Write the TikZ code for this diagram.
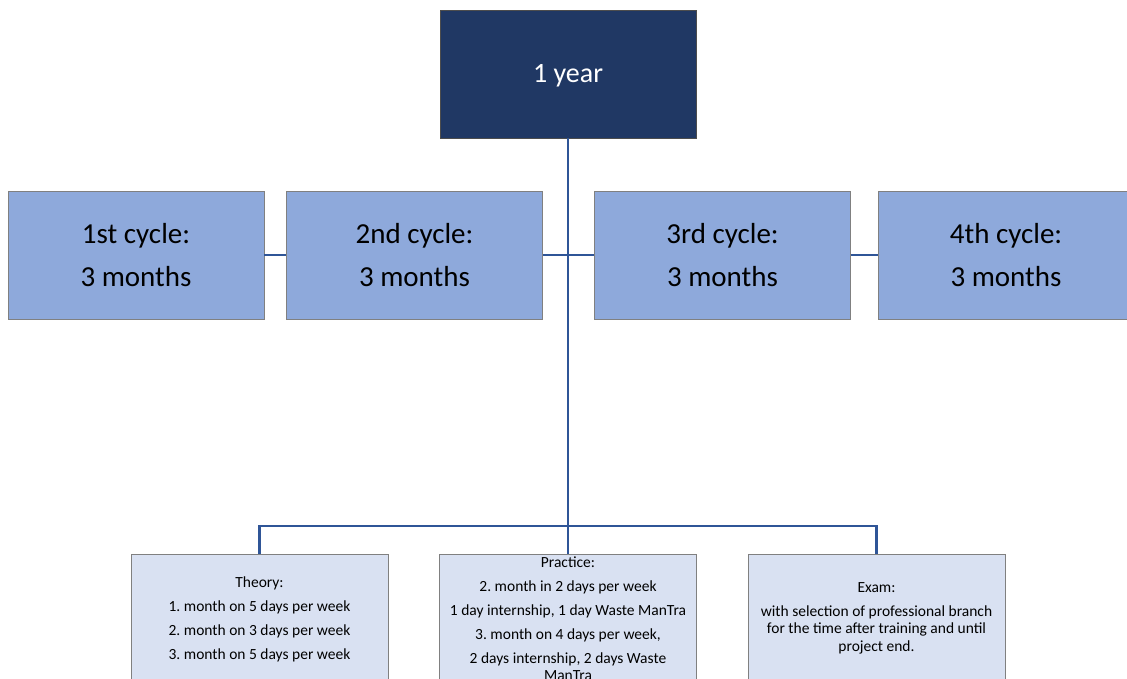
\documentclass[tikz,border=0pt]{standalone}
\usepackage{fontspec}
\setmainfont{Carlito}
\frenchspacing
\definecolor{navy}{HTML}{203864}
\definecolor{cyclefill}{HTML}{8EA9DB}
\definecolor{detailfill}{HTML}{D9E1F2}
\definecolor{linkblue}{HTML}{2F5597}
\definecolor{edgegray}{HTML}{808080}
\begin{document}
\begin{tikzpicture}[x=1pt,y=-1pt,
  yearbox/.style={draw=edgegray!60!black, line width=0.8pt, fill=navy, text=white,
    minimum width=256pt, minimum height=128pt, inner sep=0pt,
    font=\fontsize{28}{34}\selectfont},
  cyclebox/.style={draw=edgegray, line width=0.8pt, fill=cyclefill, align=center,
    minimum width=256pt, minimum height=128pt, inner sep=0pt,
    font=\fontsize{29}{43}\selectfont},
  detailbox/.style={draw=edgegray, line width=0.8pt, fill=detailfill,
    minimum width=257pt, minimum height=130pt, inner sep=0pt},
  detailtext/.style={align=center, inner sep=0pt, font=\fontsize{15.5}{17}\selectfont},
  link/.style={draw=linkblue, line width=2.6pt}]
\useasboundingbox (0,0) rectangle (1127,678);
\clip (0,0) rectangle (1127,678);

% top level
\node[yearbox, text depth=2pt] (year) at (568,74) {1 year};

% the four cycles
\node[cyclebox] (c1) at (136,255) {1st cycle:\\3 months};
\node[cyclebox] (c2) at (414.5,255) {2nd cycle:\\3 months};
\node[cyclebox] (c3) at (722.5,255) {3rd cycle:\\3 months};
\node[cyclebox] (c4) at (1006,255) {4th cycle:\\3 months};

% detail boxes
\node[detailbox] (theory) at (259.5,619) {};
\node[detailbox] (practice) at (568,619) {};
\node[detailbox] (exam) at (876.5,619) {};

\node[detailtext] (theorytxt) at (259.5,619) {Theory:\\[7pt]1. month on 5 days per week\\[7pt]2. month on 3 days per week\\[7pt]3. month on 5 days per week};
\node[detailtext] (practicetxt) at (568,618.5) {Practice:\\[7pt]2. month in 2 days per week\\[7pt]1 day internship, 1 day Waste ManTra\\[7pt]3. month on 4 days per week,\\[7pt]2 days internship, 2 days Waste\\ManTra};
\node[detailtext, font=\fontsize{15.5}{17.5}\selectfont] (examtxt) at (876.5,618.5) {Exam:\\[6pt]with selection of professional branch\\for the time after training and until\\project end.};

% connectors
\coordinate (hub) at (568,526);
\draw[link] (c1.east) -- (c2.west);
\draw[link] (c2.east) -- (c3.west);
\draw[link] (c3.east) -- (c4.west);
\draw[link] (year.south) -- (hub);
\draw[link] (hub) -| (theory.north);
\draw[link] (hub) -- (practice.north);
\draw[link] (hub) -| (exam.north);
\end{tikzpicture}
\end{document}
